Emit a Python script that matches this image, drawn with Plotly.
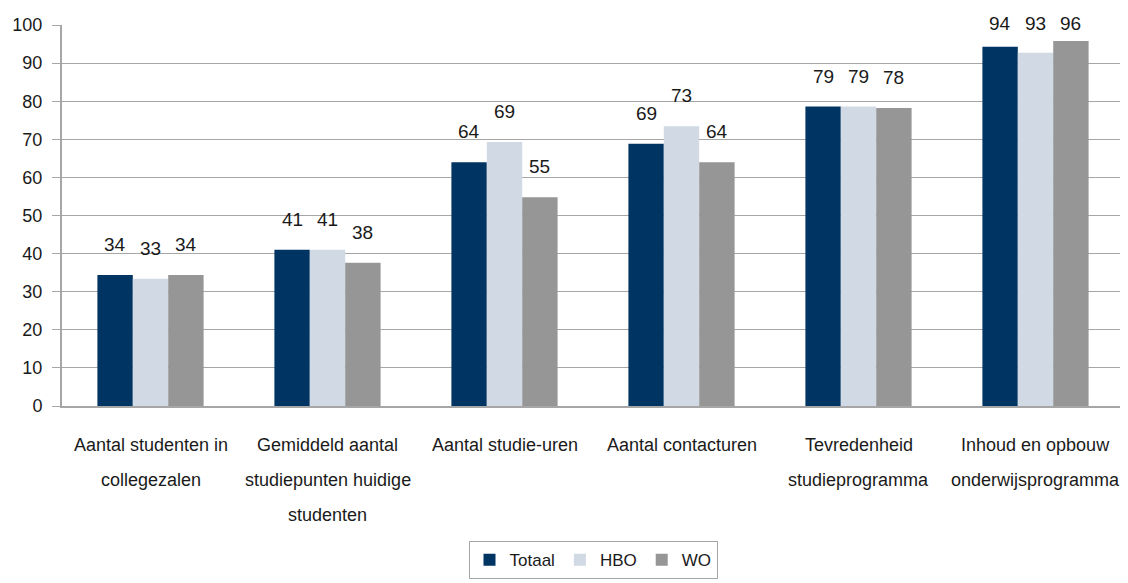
import plotly.graph_objects as go

categories = [
    "Aantal studenten in<br>collegezalen",
    "Gemiddeld aantal<br>studiepunten huidige<br>studenten",
    "Aantal studie-uren",
    "Aantal contacturen",
    "Tevredenheid<br>studieprogramma",
    "Inhoud en opbouw<br>onderwijsprogramma",
]
series_names = ["Totaal", "HBO", "WO"]
totaal = [34.4, 41.0, 64.0, 68.8, 78.6, 94.3]
hbo = [33.4, 41.0, 69.3, 73.4, 78.6, 92.7]
wo = [34.4, 37.6, 54.8, 64.0, 78.2, 95.8]
colors = ["#003462", "#D0D9E4", "#969696"]

FONT = "Liberation Sans, Arial, sans-serif"
TXT = "#1a1a1a"
GRID = "#A6A6A6"
Y_MAX = 100

fig = go.Figure()
xs = list(range(len(categories)))
all_vals = [totaal, hbo, wo]
for name, vals, col in zip(series_names, all_vals, colors):
    fig.add_trace(go.Bar(x=xs, y=vals, name=name, marker=dict(color=col, line=dict(width=0))))

# data labels (placed above bars, clamped at the top of the chart)
n = len(series_names)
bar_w = 0.6 / n
annotations = []
for i, vals in enumerate(all_vals):
    off = (i - (n - 1) / 2) * bar_w
    for j, v in enumerate(vals):
        annotations.append(dict(
            x=j + off, y=min(v + 8, Y_MAX + 0.3) / Y_MAX, xref="x", yref="paper",
            text=f"{round(v):d}", showarrow=False, yanchor="middle",
            font=dict(family=FONT, size=19, color=TXT),
        ))

# category labels (multi-line, wide spacing)
for j, cat in enumerate(categories):
    for k, line in enumerate(cat.split("<br>")):
        annotations.append(dict(
            x=j, y=0, xref="x", yref="paper", text=line, showarrow=False,
            yanchor="middle", yshift=-(39 + 35 * k),
            font=dict(family=FONT, size=18, color=TXT),
        ))

fig.update_layout(
    width=1120, height=575,
    margin=dict(l=51, r=4, t=17, b=175),
    paper_bgcolor="white", plot_bgcolor="white",
    barmode="group", bargap=0.4, bargroupgap=0,
    font=dict(family=FONT, size=18, color=TXT),
    showlegend=True,
    legend=dict(
        orientation="h", x=0.5, xanchor="center", y=-0.355, yanchor="top",
        bordercolor=GRID, borderwidth=1, font=dict(size=17, color=TXT),
        itemwidth=30, tracegroupgap=0,
    ),
    annotations=annotations,
)
fig.update_xaxes(
    range=[-0.5, len(categories) - 0.5], showticklabels=False, showgrid=False,
    showline=True, linecolor=GRID, linewidth=2, ticks="", zeroline=False,
)
fig.update_yaxes(
    range=[0, Y_MAX], dtick=10, showgrid=True, gridcolor=GRID, gridwidth=1,
    showline=True, linecolor=GRID, linewidth=2, ticks="outside", ticklen=8,
    tickcolor=GRID, tickwidth=1, ticklabelstandoff=6, zeroline=False,
    tickfont=dict(family=FONT, size=18, color=TXT),
)

fig.write_html("out.html")
